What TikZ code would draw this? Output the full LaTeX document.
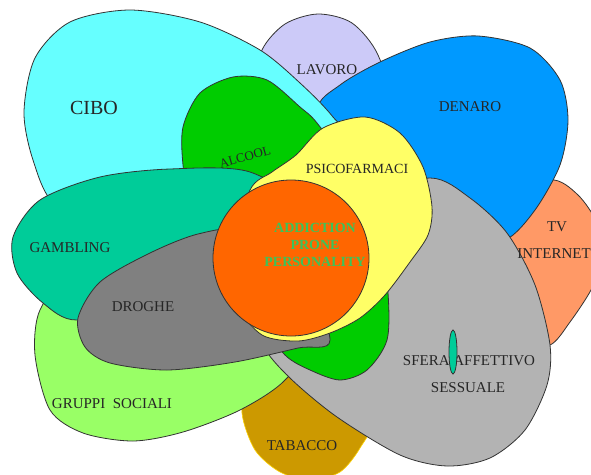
\documentclass[tikz,border=0pt]{standalone}
\usepackage{fontspec}
\setmainfont{Liberation Serif}
\usetikzlibrary{positioning}

\definecolor{lavoroC}{RGB}{204,202,248}
\definecolor{tvC}{RGB}{255,153,102}
\definecolor{tabaccoC}{RGB}{204,153,0}
\definecolor{denaroC}{RGB}{0,153,255}
\definecolor{ciboC}{RGB}{102,255,255}
\definecolor{gruppiC}{RGB}{153,255,102}
\definecolor{sferaC}{RGB}{179,179,179}
\definecolor{alcoolC}{RGB}{0,204,0}
\definecolor{gamblingC}{RGB}{0,204,153}
\definecolor{drogheC}{RGB}{128,128,128}
\definecolor{psicoC}{RGB}{255,255,102}
\definecolor{addictC}{RGB}{255,102,0}
\definecolor{addictT}{RGB}{60,195,90}

\begin{document}
\begin{tikzpicture}[x=1pt, y=-1pt,
    petal/.style={draw=black!80, line width=0.8pt},
    lbl/.style={font=\fontsize{15}{17}\selectfont, text=black!85, inner sep=0pt}]

    \useasboundingbox (0,0) rectangle (591,474);
    \clip (0,0) rectangle (591,474);

    % petals, back to front
    \draw[petal, fill=lavoroC] plot[smooth cycle] coordinates {(300,240) (265,150) (255,90) (262,50) (285,24) (318,14) (352,23) (378,55) (390,110) (350,190)};
    \draw[petal, fill=tvC] plot[smooth cycle] coordinates {(430,265) (500,205) (550,180) (578,195) (598,225) (603,260) (591,290) (570,322) (550,345) (520,342)};
    \draw[draw=yellow!70!orange, line width=0.6pt, fill=tabaccoC] plot[smooth cycle] coordinates {(300,330) (250,380) (242,413) (255,450) (280,472) (310,480) (340,472) (360,448) (370,420) (340,360)};
    \draw[petal, fill=denaroC] plot[smooth cycle] coordinates {(345,170) (318,110) (340,85) (380,62) (430,42) (478,36) (530,48) (560,80) (568,120) (560,165) (535,210) (505,240) (460,240) (400,215)};
    \draw[petal, fill=ciboC] plot[smooth cycle] coordinates {(370,170) (333,117) (300,83) (260,50) (200,22) (130,10) (70,22) (35,58) (24,112) (33,160) (55,205) (120,240) (250,230)};
    \draw[petal, fill=gruppiC] plot[smooth cycle] coordinates {(310,335) (285,380) (240,410) (183,432) (133,441) (83,433) (50,410) (35,355) (40,310) (70,285) (180,300)};
    \draw[petal, fill=sferaC] plot[smooth cycle] coordinates {(280,250) (360,200) (430,178) (470,198) (507,233) (535,285) (550,345) (547,385) (525,430) (490,458) (447,466) (400,455) (337,417) (290,378) (263,345) (255,300)};
    \draw[petal, fill=alcoolC] plot[smooth cycle] coordinates {(183,165) (183,127) (200,93) (233,77) (267,80) (300,107) (317,123) (350,170) (380,240) (388,293) (387,340) (367,370) (340,380) (310,370) (285,355) (260,320) (215,250) (190,200)};
    \draw[petal, fill=gamblingC] plot[smooth cycle] coordinates {(310,215) (250,172) (170,169) (100,177) (40,200) (13,237) (17,273) (43,303) (77,320) (150,300) (240,260)};
    \draw[petal, fill=drogheC] plot[smooth cycle] coordinates {(330,340) (300,265) (245,230) (198,234) (150,253) (100,282) (78,318) (85,347) (110,363) (167,370) (235,362) (298,348)};
    \draw[petal, fill=psicoC] plot[smooth cycle] coordinates {(365,117) (400,133) (423,167) (432,207) (428,235) (410,262) (385,295) (360,318) (330,333) (298,341) (262,335) (238,305) (232,255) (250,190) (272,172) (296,155) (323,128)};
    \draw[petal, fill=addictC] (291,258) circle [radius=78pt];

    \node[lbl] (lavoro) at (327,70) {LAVORO};
    \node[lbl, font=\fontsize{20}{22}\selectfont] (cibo) at (94,108) {CIBO};
    \node[lbl] (denaro) at (470,107) {DENARO};
    \node[lbl, font=\fontsize{13}{15}\selectfont, rotate=16] (alcool) at (245,157) {ALCOOL};
    \node[lbl, font=\fontsize{14}{16}\selectfont] (psico) at (357,169) {PSICOFARMACI};
    \node[lbl] (tv) at (557,227) {TV};
    \node[lbl] (internet) at (554,254) {INTERNET};
    \node[lbl] (gambling) at (70,248) {GAMBLING};
    \node[lbl, font=\bfseries\fontsize{14}{17}\selectfont, text=addictT, align=center] (addiction) at (315,245) {ADDICTION\\PRONE\\PERSONALITY};
    \node[lbl] (droghe) at (143,307) {DROGHE};
    \node[lbl] (sfera) at (469,361) {SFERA AFFETTIVO};
    \node[lbl] (sessuale) at (468,388) {SESSUALE};
    \node[lbl] (gruppi) at (112,404) {GRUPPI\ \ SOCIALI};
    \node[lbl] (tabacco) at (302,446) {TABACCO};

    \draw[petal, fill=gamblingC] (453,352) ellipse [x radius=4pt, y radius=22pt];
\end{tikzpicture}
\end{document}
